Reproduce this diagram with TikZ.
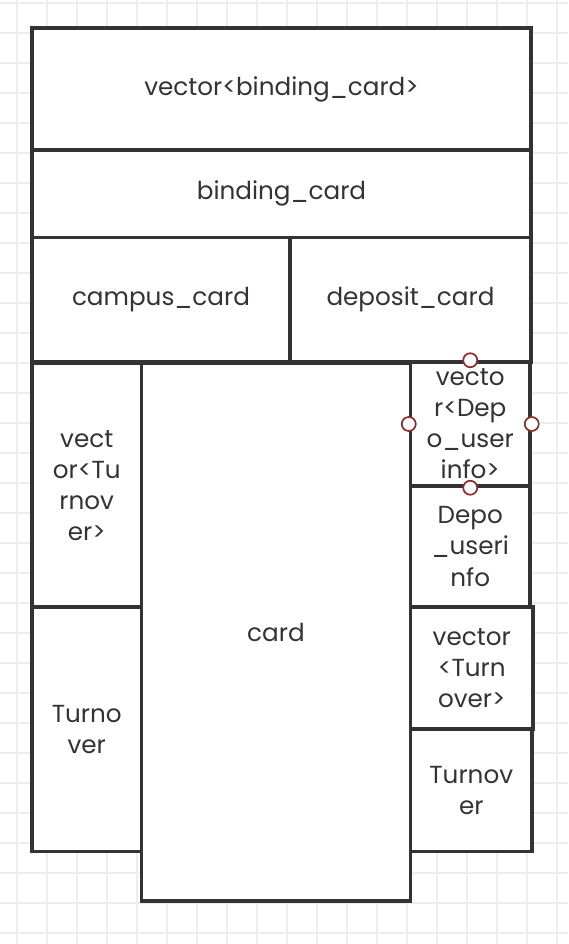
\documentclass[tikz,border=0pt]{standalone}
\usepackage{fontspec}
\setmainfont{Poppins}
\begin{document}
\begin{tikzpicture}[x=0.75pt,y=-0.75pt,
  cell/.style 2 args={draw=linegray, line width=2.6pt, fill=white, inner sep=0pt,
    minimum width=#1*0.75pt, minimum height=#2*0.75pt, align=center,
    text=textgray, font=\fontsize{18.5}{23.3}\selectfont},
  handle/.style={circle, draw=handlered, fill=white, line width=1.3pt, minimum size=10.5pt, inner sep=0pt}]
\definecolor{linegray}{HTML}{333333}
\definecolor{textgray}{HTML}{333333}
\definecolor{gridgray}{HTML}{EDEDED}
\definecolor{handlered}{HTML}{8B2F2F}
\useasboundingbox (0,0) rectangle (568,944);
\fill[white] (0,0) rectangle (568,944);
\foreach \gx in {17,47,...,557} \draw[gridgray, line width=0.9pt] (\gx,0) -- (\gx,944);
\foreach \gy in {3,33,...,933} \draw[gridgray, line width=0.9pt] (0,\gy) -- (568,\gy);
\node[cell={269}{537.5}] (card) at (276,632.25) {card};
\node[cell={499}{122}] (vbc) at (281.5,89) {vector<binding\_card>};
\node[cell={499}{87.5}] (bc) at (281.5,193.75) {binding\_card};
\node[cell={258}{124.5}] (campus) at (161,299.75) {campus\_card};
\node[cell={241}{124.5}] (deposit) at (410.5,299.75) {deposit\_card};
\node[cell={109.5}{243.5}] (lvt) at (86.75,485.25) {vect\\or<Tu\\rnov\\er>};
\node[cell={109.5}{244.5}] (lt) at (86.75,729.25) {Turno\\ver};
\node[cell={119.5}{124}] (rvd) at (470.25,424) {vecto\\r<Dep\\o\_user\\info>};
\node[cell={119.5}{121}] (rdu) at (470.25,546.5) {Depo\\\_useri\\nfo};
\node[cell={122.5}{122}] (rvt) at (471.75,668) {vector\\<Turn\\over>};
\node[cell={121.5}{122.5}] (rt) at (471.25,790.25) {Turnov\\er};
\node[handle] (hn) at (rvd.north) {};
\node[handle] (hw) at (rvd.west) {};
\node[handle] (he) at (rvd.east) {};
\node[handle] (hs) at (rvd.south) {};
\end{tikzpicture}
\end{document}
